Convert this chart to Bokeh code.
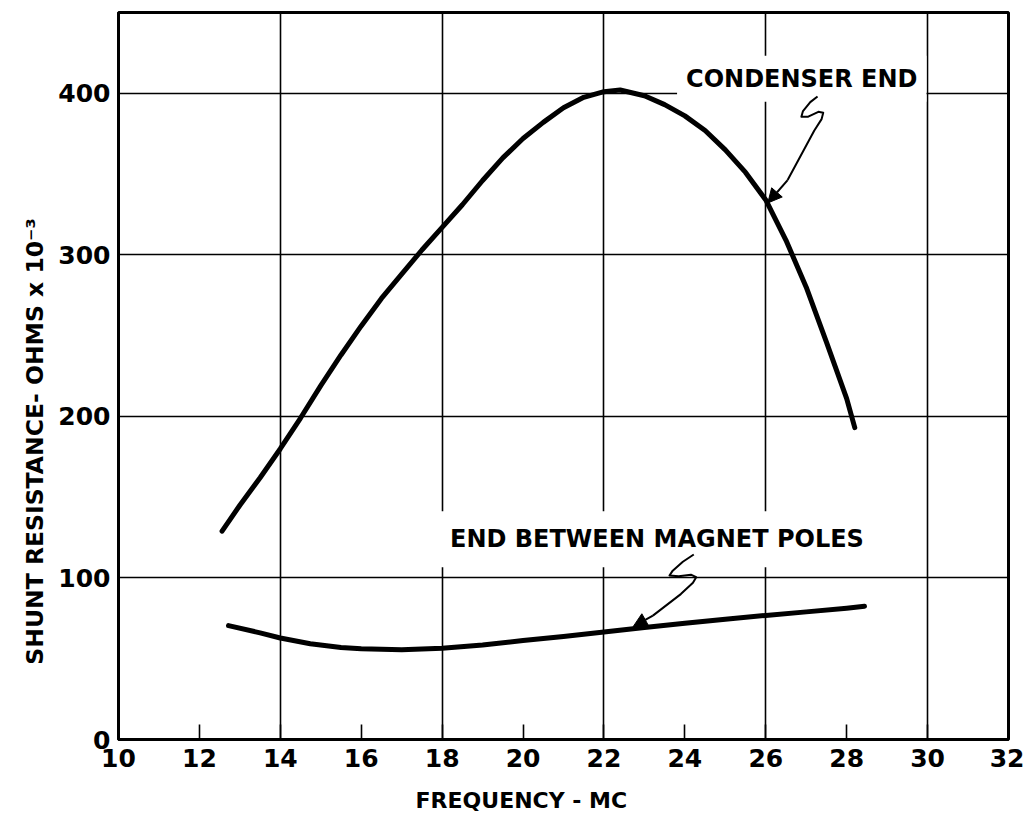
from bokeh.plotting import figure
from bokeh.models import Label, Arrow, NormalHead, FixedTicker, Range1d
from bokeh.embed import file_html
from bokeh.resources import INLINE

# ---- data ----
cond_freq = [12.56, 13.0, 13.5, 14.0, 14.5, 15.0, 15.5, 16.0, 16.5, 17.0, 17.5, 18.0,
             18.5, 19.0, 19.5, 20.0, 20.5, 21.0, 21.5, 22.0, 22.4, 23.0, 23.5, 24.0,
             24.5, 25.0, 25.5, 26.0, 26.5, 27.0, 27.5, 28.0, 28.2]
cond_res = [129, 145, 162, 180, 199, 219, 238, 256, 273, 288, 303, 317,
            331, 346, 360, 372, 382, 391, 397.5, 401, 402, 398.5, 393, 386,
            377, 365, 351, 334, 309, 280, 246, 211, 193]

mag_freq = [12.72, 13.5, 14.0, 14.74, 15.5, 16.0, 17.0, 18.0, 19.0, 20.0, 21.0, 22.0,
            23.0, 24.0, 25.0, 26.0, 27.0, 28.0, 28.44]
mag_res = [70.5, 66, 62.8, 59.3, 57, 56.2, 55.6, 56.5, 58.5, 61.3, 63.8, 66.5,
           69.3, 72, 74.5, 76.8, 79, 81.3, 82.5]

x_ticks = [10, 12, 14, 16, 18, 20, 22, 24, 26, 28, 30, 32]
x_grid = [14, 18, 22, 26, 30]
y_ticks = [0, 100, 200, 300, 400]
y_grid = [100, 200, 300, 400]

label_cond = "CONDENSER END"
label_mag = "END BETWEEN MAGNET POLES"
x_title = "FREQUENCY - MC"
y_title = "SHUNT RESISTANCE- OHMS x 10\u207b\u00b3"

FONT = "DejaVu Sans"
NBSP = "\u00a0"

p = figure(width=1024, height=815, x_range=Range1d(10, 32), y_range=Range1d(0, 450),
           output_backend="svg", toolbar_location=None,
           min_border_left=118, min_border_right=16, min_border_top=12, min_border_bottom=74)
p.background_fill_color = "white"
p.border_fill_color = "white"
p.outline_line_color = "black"
p.outline_line_width = 3

# grids
p.xgrid.ticker = FixedTicker(ticks=x_grid)
p.ygrid.ticker = FixedTicker(ticks=y_grid)
for g in (p.xgrid, p.ygrid):
    g.grid_line_color = "black"
    g.grid_line_width = 1.6
    g.grid_line_alpha = 1.0

# axes
p.xaxis.ticker = FixedTicker(ticks=x_ticks)
p.yaxis.ticker = FixedTicker(ticks=y_ticks)
for ax in (p.xaxis, p.yaxis):
    ax.axis_line_color = "black"
    ax.axis_line_width = 3
    ax.major_label_text_font = FONT
    ax.major_label_text_font_style = "bold"
    ax.major_label_text_font_size = "25px"
    ax.major_label_text_color = "black"
    ax.minor_tick_line_color = None
    ax.major_tick_line_color = "black"
    ax.major_tick_line_width = 1.6
    ax.axis_label_text_font = FONT
    ax.axis_label_text_font_style = "bold"
    ax.axis_label_text_color = "black"
p.xaxis.axis_label_text_font_size = "22px"
p.yaxis.axis_label_text_font_size = "23.5px"
p.xaxis.major_tick_in = 15
p.xaxis.major_tick_out = 0
p.xaxis.major_label_standoff = 9
p.yaxis.major_tick_in = 0
p.yaxis.major_tick_out = 0
p.yaxis.major_label_standoff = 8

# axis titles (NBSP padding shifts them off-centre as in the reference)
p.xaxis.axis_label = x_title + NBSP * 11
p.xaxis.axis_label_standoff = 18
p.yaxis.axis_label = y_title + NBSP * 16
p.yaxis.axis_label_standoff = 6

# labels with white boxes
p.add_layout(Label(x=26.89, y=409, text=label_cond, text_align="center", text_baseline="middle",
                   text_font=FONT, text_font_style="bold", text_font_size="24px", text_color="black",
                   background_fill_color="white", padding=9))
p.add_layout(Label(x=23.31, y=124, text=label_mag, text_align="center", text_baseline="middle",
                   text_font=FONT, text_font_style="bold", text_font_size="24px", text_color="black",
                   background_fill_color="white", padding=14))

# curves (drawn above the label boxes)
r1 = p.line(cond_freq, cond_res, line_color="black", line_width=5, line_cap="round", line_join="round")
r2 = p.line(mag_freq, mag_res, line_color="black", line_width=5, line_cap="round", line_join="round")
r1.level = "overlay"
r2.level = "overlay"

# leader squiggles
cond_lead_x = [27.28, 27.1, 26.92, 26.88, 27.05, 27.3, 27.42, 27.38, 27.2, 26.54]
cond_lead_y = [398.0, 394.5, 389.0, 385.5, 385.5, 388.5, 388.0, 384.0, 377.0, 346.3]
r3 = p.line(cond_lead_x, cond_lead_y, line_color="black", line_width=2, line_join="round")
r3.level = "overlay"
p.add_layout(Arrow(x_start=26.54, y_start=346.3, x_end=26.05, y_end=332.1,
                   line_color="black", line_width=2,
                   end=NormalHead(size=14, fill_color="black", line_color="black")))

mag_lead_x = [24.22, 23.95, 23.7, 23.62, 23.85, 24.15, 24.28, 24.2, 23.9, 23.21]
mag_lead_y = [114.5, 110.0, 104.5, 101.5, 101.0, 102.0, 100.5, 97.0, 90.0, 76.7]
r4 = p.line(mag_lead_x, mag_lead_y, line_color="black", line_width=2, line_join="round")
r4.level = "overlay"
p.add_layout(Arrow(x_start=23.21, y_start=76.7, x_end=22.72, y_end=69.8,
                   line_color="black", line_width=2,
                   end=NormalHead(size=14, fill_color="black", line_color="black")))

open("out.html", "w").write(file_html(p, INLINE))
